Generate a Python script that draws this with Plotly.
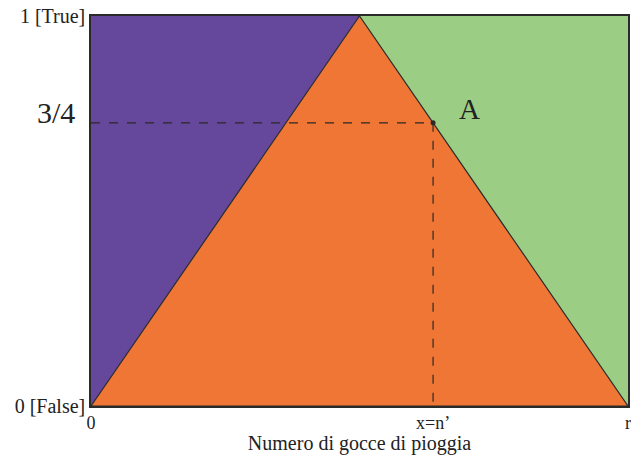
import plotly.graph_objects as go

# Data
r_val = 1.0
n_prime = 0.637
a_level = 0.726
purple_x = [0, 0.5, 0, 0]
purple_y = [0, 1, 1, 0]
orange_x = [0, 0.5, 1, 0]
orange_y = [0, 1, 0, 0]
green_x = [0.5, 1, 1, 0.5]
green_y = [1, 1, 0, 1]
xtick_vals = [0, n_prime, r_val]
xtick_text = ["0", "x=n’", "r"]
ytick_vals = [0, 1]
ytick_text = ["0 [False]", "1 [True]"]

PURPLE = "#65479b"
ORANGE = "#f07635"
GREEN = "#9bce84"
DARK = "#2a2a2a"
FONT = "Liberation Serif"

fig = go.Figure()
fig.add_trace(go.Scatter(x=purple_x, y=purple_y, fill="toself", fillcolor=PURPLE,
                         mode="lines", line=dict(width=0), hoverinfo="skip"))
fig.add_trace(go.Scatter(x=green_x, y=green_y, fill="toself", fillcolor=GREEN,
                         mode="lines", line=dict(width=0), hoverinfo="skip"))
fig.add_trace(go.Scatter(x=orange_x, y=orange_y, fill="toself", fillcolor=ORANGE,
                         mode="lines", line=dict(width=1.2, color=DARK), hoverinfo="skip"))
# dashed guides
fig.add_trace(go.Scatter(x=[0, n_prime, n_prime], y=[a_level, a_level, 0], mode="lines",
                         line=dict(color=DARK, width=1.2, dash="dash"), hoverinfo="skip"))
fig.add_trace(go.Scatter(x=[n_prime], y=[a_level], mode="markers",
                         marker=dict(color=DARK, size=5), hoverinfo="skip"))

fig.add_annotation(x=0, y=0.75, xref="x", yref="y", text="3/4", showarrow=False,
                   xanchor="right", xshift=-14, yshift=1,
                   font=dict(family=FONT, size=30, color="#222"))
fig.add_annotation(x=n_prime, y=a_level, xref="x", yref="y", text="A", showarrow=False,
                   xanchor="left", xshift=24, yshift=14,
                   font=dict(family=FONT, size=29, color="#222"))

fig.update_layout(
    width=631, height=455,
    margin=dict(l=91, r=3, t=16, b=49),
    paper_bgcolor="white", plot_bgcolor="white",
    showlegend=False,
    font=dict(family=FONT, size=18, color="#222"),
    xaxis=dict(range=[0, 1], tickvals=xtick_vals, ticktext=xtick_text,
               showgrid=False, zeroline=False, showline=True, linecolor=DARK,
               linewidth=1.5, mirror=True, ticks="", ticklen=0,
               ticklabeloverflow="allow",
               tickfont=dict(family=FONT, size=18, color="#222"),
               title=dict(text="Numero di gocce di pioggia", standoff=3,
                          font=dict(family=FONT, size=20, color="#222")),
               automargin=False, fixedrange=True),
    yaxis=dict(range=[0, 1], tickvals=ytick_vals, ticktext=ytick_text,
               showgrid=False, zeroline=False, showline=True, linecolor=DARK,
               linewidth=1.5, mirror=True, ticks="",
               ticklabeloverflow="allow",
               tickfont=dict(family=FONT, size=20, color="#222"),
               automargin=False, fixedrange=True),
)

fig.write_html("out.html", config={"displayModeBar": False},
               post_script="document.body.style.margin='0';document.body.style.overflow='hidden';")
